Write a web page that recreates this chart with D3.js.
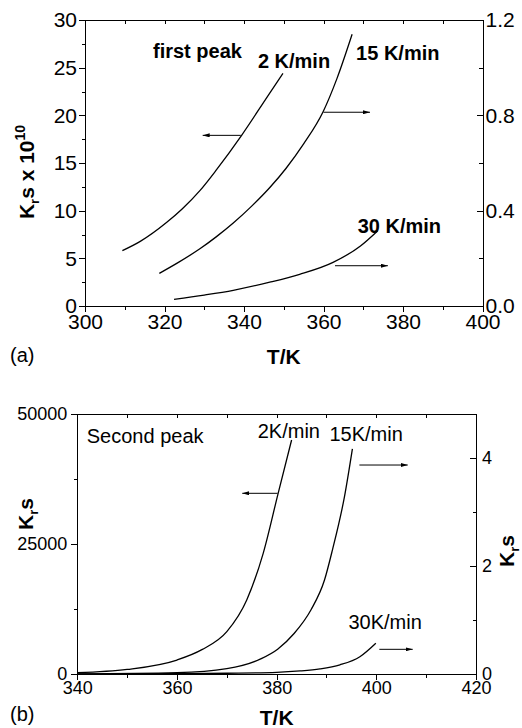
<!DOCTYPE html>
<html>
<head>
<meta charset="utf-8">
<script src="https://cdn.jsdelivr.net/npm/d3@7"></script>
<style>
  body { margin: 0; background: white; }
  svg { display: block; }
</style>
</head>
<body>
<div id="chart"></div>
<script>
const width = 522
const height = 728
const font = "'Liberation Sans', Arial, Helvetica, sans-serif"

// (a) first peak: T/K and Ks values
const tempA2 = [309.4, 314, 320.5, 324.5, 328.9, 333.1, 339.4, 346.1, 349.8]
const ksA2 = [5.8, 6.8, 8.75, 10.2, 12.1, 14.3, 17.9, 22.1, 24.4]
const tempA15 = [318.7, 323.5, 328.9, 333, 337.3, 342, 346.5, 350.6, 355, 359.9, 363.4, 367.2]
const ksA15 = [0.137, 0.183, 0.24, 0.29, 0.348, 0.42, 0.497, 0.578, 0.68, 0.815, 0.955, 1.14]
const tempA30 = [322.4, 330, 337.3, 346.5, 354, 362.4, 369.3, 373.6]
const ksA30 = [0.028, 0.046, 0.066, 0.1, 0.133, 0.183, 0.252, 0.315]

// (b) second peak
const tempB2 = [340, 350, 360, 365, 370, 374, 377.3, 380.3, 383]
const ksB2 = [250, 880, 2690, 4680, 8135, 14230, 23210, 34750, 45000]
const tempB15 = [340, 360, 370, 376.8, 380.2, 383.5, 386.9, 389.6, 391.2, 393.6, 395.2]
const ksB15 = [0.002, 0.025, 0.1, 0.28, 0.46, 0.75, 1.19, 1.74, 2.3, 3.28, 4.17]
const tempB30 = [340, 360, 370, 380, 384.7, 388.7, 392.7, 396.7, 399.9]
const ksB30 = [0.0005, 0.005, 0.014, 0.03, 0.056, 0.095, 0.17, 0.32, 0.57]

// tick values
const xTicksA = [300, 320, 340, 360, 380, 400]
const xMinorA = [310, 330, 350, 370, 390]
const yLeftTicksA = [0, 5, 10, 15, 20, 25, 30]
const yLeftMinorA = [2.5, 7.5, 12.5, 17.5, 22.5, 27.5]
const yRightTicksA = [0, 0.4, 0.8, 1.2]
const yRightMinorA = [0.2, 0.6, 1.0]

const xTicksB = [340, 360, 380, 400, 420]
const xMinorB = [350, 370, 390, 410]
const yLeftTicksB = [0, 25000, 50000]
const yLeftMinorB = [12500, 37500]
const yRightTicksB = [0, 2, 4]
const yRightMinorB = [1, 3]

var svg = d3
  .select("#chart")
  .append("svg")
  .attr("width", width)
  .attr("height", height)
  .style("background", "white")

// arrow head
svg
  .append("defs")
  .append("marker")
  .attr("id", "head")
  .attr("viewBox", "0 0 10 10")
  .attr("refX", 10)
  .attr("refY", 5)
  .attr("markerWidth", 7)
  .attr("markerHeight", 4)
  .attr("markerUnits", "userSpaceOnUse")
  .attr("preserveAspectRatio", "none")
  .attr("orient", "auto")
  .append("path")
  .attr("d", "M0,0L10,5L0,10Z")
  .attr("fill", "black")

function styleAxis(sel, size) {
  sel.attr("font-size", size).attr("font-family", font)
  sel.selectAll("path, line").attr("shape-rendering", "crispEdges")
}

function drawPanel(p) {
  const x = d3.scaleLinear(p.xDomain, [p.box.left, p.box.right])
  const yL = d3.scaleLinear(p.yLeftDomain, [p.box.bottom, p.box.top])
  const yR = d3.scaleLinear(p.yRightDomain, [p.box.bottom, p.box.top])
  const g = svg.append("g")

  // Bottom axis (outward ticks)
  g.append("g")
    .attr("transform", `translate(0,${p.box.bottom})`)
    .call(d3.axisBottom(x).tickValues(p.xMinor).tickSize(p.minor).tickSizeOuter(0).tickFormat(""))
    .call(styleAxis, p.tickFont)
  g.append("g")
    .attr("transform", `translate(0,${p.box.bottom})`)
    .call(d3.axisBottom(x).tickValues(p.xTicks).tickSize(p.major).tickSizeOuter(0).tickPadding(p.xPad).tickFormat(d3.format("d")))
    .call(styleAxis, p.tickFont)

  // Top border with inward ticks
  g.append("g")
    .attr("transform", `translate(0,${p.box.top})`)
    .call(d3.axisTop(x).tickValues(p.xTicks.concat(p.xMinor)).tickSize(-4).tickSizeOuter(0).tickFormat(""))
    .call(styleAxis, p.tickFont)

  // Left axis
  g.append("g")
    .attr("transform", `translate(${p.box.left},0)`)
    .call(d3.axisLeft(yL).tickValues(p.yLeftMinor).tickSize(p.minor).tickSizeOuter(0).tickFormat(""))
    .call(styleAxis, p.tickFont)
  g.append("g")
    .attr("transform", `translate(${p.box.left},0)`)
    .call(d3.axisLeft(yL).tickValues(p.yLeftTicks).tickSize(p.major).tickSizeOuter(0).tickPadding(p.leftPad).tickFormat(d3.format("d")))
    .call(styleAxis, p.tickFont)

  // Right axis (inward ticks)
  g.append("g")
    .attr("transform", `translate(${p.box.right},0)`)
    .call(d3.axisRight(yR).tickValues(p.yRightMinor).tickSize(-p.minor).tickSizeOuter(0).tickFormat(""))
    .call(styleAxis, p.tickFont)
  g.append("g")
    .attr("transform", `translate(${p.box.right},0)`)
    .call(d3.axisRight(yR).tickValues(p.yRightTicks).tickSize(-p.major).tickSizeOuter(0).tickPadding(p.rightPad).tickFormat(p.rightFormat))
    .call(styleAxis, p.tickFont)

  // Curves
  p.series.forEach((s) => {
    const y = s.axis === "left" ? yL : yR
    const line = d3
      .line()
      .x((_d, i) => x(s.temp[i]))
      .y((d) => y(d))
      .curve(d3.curveMonotoneX)
    g.append("path")
      .datum(s.vals)
      .attr("d", line)
      .attr("fill", "none")
      .attr("stroke", "black")
      .attr("stroke-width", 1.3)
  })

  // Arrows pointing to the axis of each curve
  p.arrows.forEach((a) => {
    const y = a.axis === "left" ? yL : yR
    g.append("line")
      .attr("x1", x(a.from))
      .attr("x2", x(a.to))
      .attr("y1", y(a.v))
      .attr("y2", y(a.v))
      .attr("stroke", "black")
      .attr("stroke-width", 1)
      .attr("marker-end", "url(#head)")
  })

  // Curve labels
  p.labels.forEach((l) => {
    g.append("text")
      .attr("x", x(l.t))
      .attr("y", yL(l.v))
      .attr("font-family", font)
      .attr("font-size", p.labelFont)
      .attr("font-weight", p.labelWeight)
      .text(l.text)
  })

  // X title and panel letter
  g.append("text")
    .attr("x", (p.box.left + p.box.right) / 2)
    .attr("y", p.xTitleY)
    .attr("text-anchor", "middle")
    .attr("font-family", font)
    .attr("font-size", 21)
    .attr("font-weight", "bold")
    .text("T/K")
  g.append("text")
    .attr("x", 10)
    .attr("y", p.letterY)
    .attr("font-family", font)
    .attr("font-size", 20)
    .text(p.letter)

  // Y titles
  p.yTitles.forEach((t) => {
    const tx = g
      .append("text")
      .attr("transform", `translate(${t.x},${t.y}) rotate(-90)`)
      .attr("text-anchor", "middle")
      .attr("font-family", font)
      .attr("font-size", 21)
      .attr("font-weight", "bold")
    tx.append("tspan").text("K")
    tx.append("tspan").attr("dy", 5).attr("font-size", 13).text("r")
    tx.append("tspan").attr("dy", -5).text(t.rest)
    if (t.sup) tx.append("tspan").attr("dy", -9).attr("font-size", 14).text(t.sup)
  })
}

// Panel (a)
drawPanel({
  box: { left: 85, right: 482.5, top: 20, bottom: 306 },
  xDomain: [300, 400],
  yLeftDomain: [0, 30],
  yRightDomain: [0, 1.2],
  xTicks: xTicksA,
  xMinor: xMinorA,
  yLeftTicks: yLeftTicksA,
  yLeftMinor: yLeftMinorA,
  yRightTicks: yRightTicksA,
  yRightMinor: yRightMinorA,
  rightFormat: d3.format(".1f"),
  major: 6,
  minor: 3.5,
  xPad: 2,
  leftPad: 2,
  rightPad: 3,
  tickFont: 21,
  labelFont: 20,
  labelWeight: "bold",
  series: [
    { temp: tempA2, vals: ksA2, axis: "left" },
    { temp: tempA15, vals: ksA15, axis: "right" },
    { temp: tempA30, vals: ksA30, axis: "right" },
  ],
  arrows: [
    { from: 339.2, to: 329.6, v: 17.9, axis: "left" },
    { from: 360, to: 371.7, v: 0.813, axis: "right" },
    { from: 362.9, to: 376.2, v: 0.169, axis: "right" },
  ],
  labels: [
    { text: "first peak", t: 317.1, v: 26.0 },
    { text: "2 K/min", t: 343.5, v: 25.0 },
    { text: "15 K/min", t: 368.2, v: 25.8 },
    { text: "30 K/min", t: 368.6, v: 7.7 },
  ],
  xTitleY: 364,
  letter: "(a)",
  letterY: 362,
  yTitles: [{ x: 34, y: 172, rest: "s x 10", sup: "10" }],
})

// Panel (b)
drawPanel({
  box: { left: 77.3, right: 476, top: 414, bottom: 674 },
  xDomain: [340, 420],
  yLeftDomain: [0, 50000],
  yRightDomain: [0, 4.815],
  xTicks: xTicksB,
  xMinor: xMinorB,
  yLeftTicks: yLeftTicksB,
  yLeftMinor: yLeftMinorB,
  yRightTicks: yRightTicksB,
  yRightMinor: yRightMinorB,
  rightFormat: d3.format("d"),
  major: 6,
  minor: 3.5,
  xPad: 1,
  leftPad: 4,
  rightPad: 6,
  tickFont: 18,
  labelFont: 20,
  labelWeight: "normal",
  series: [
    { temp: tempB2, vals: ksB2, axis: "left" },
    { temp: tempB15, vals: ksB15, axis: "right" },
    { temp: tempB30, vals: ksB30, axis: "right" },
  ],
  arrows: [
    { from: 380.2, to: 373.1, v: 34750, axis: "left" },
    { from: 396.6, to: 406.3, v: 3.87, axis: "right" },
    { from: 400.6, to: 407.3, v: 0.457, axis: "right" },
  ],
  labels: [
    { text: "Second peak", t: 341.9, v: 44480 },
    { text: "2K/min", t: 376.2, v: 45330 },
    { text: "15K/min", t: 390.6, v: 44810 },
    { text: "30K/min", t: 394.4, v: 8650 },
  ],
  xTitleY: 725,
  letter: "(b)",
  letterY: 721,
  yTitles: [
    { x: 33, y: 514, rest: "s" },
    { x: 514, y: 551, rest: "s" },
  ],
})
</script>
</body>
</html>
